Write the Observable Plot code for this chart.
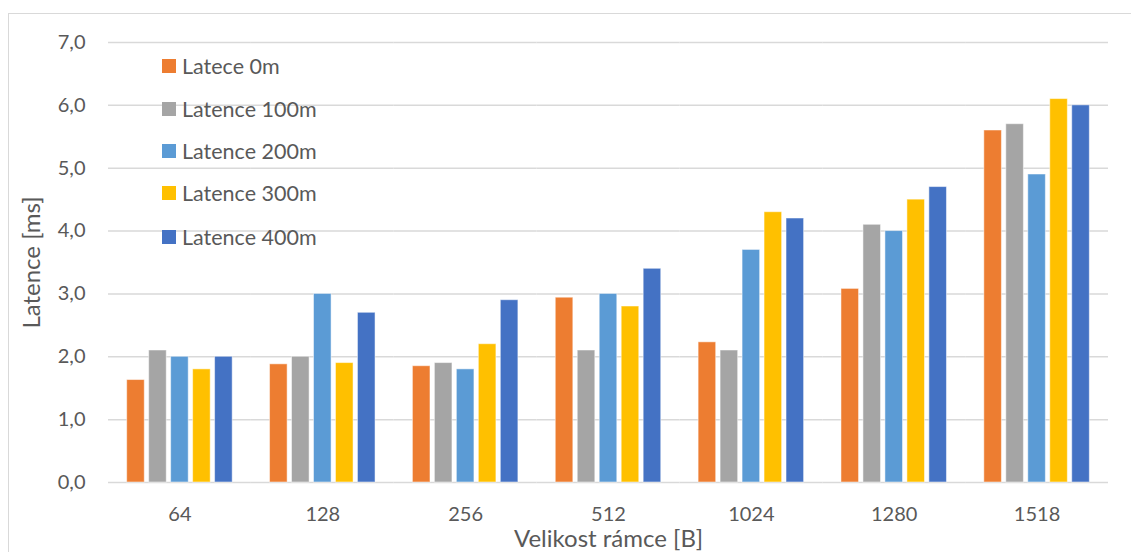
<!DOCTYPE html>
<html>
<head>
<meta charset="utf-8">
<script src="https://cdn.jsdelivr.net/npm/d3@7"></script>
<script src="https://cdn.jsdelivr.net/npm/@observablehq/plot@0.6"></script>
<style>
  html, body { margin: 0; padding: 0; background: #fff; overflow: hidden; }
  #wrap { position: relative; width: 1131px; height: 552px; background: #fff; font-family: Lato, "Open Sans", sans-serif; }
  #frame { position: absolute; left: 8px; top: 13px; width: 1140px; height: 600px; border: 1.5px solid #d9d9d9; box-sizing: border-box; }
  #chart { position: absolute; left: 0; top: 0; }
  #legend { position: absolute; left: 162px; top: 0; }
  .li { position: absolute; left: 0; height: 26px; display: flex; align-items: center; white-space: nowrap; font-size: 21.5px; color: #595959; }
  .sw { display: inline-block; width: 14px; height: 14px; margin-right: 6px; }
  g[aria-label="y-axis label"] text, g[aria-label="fx-axis label"] text { font-size: 24px; }
</style>
</head>
<body>
<div id="wrap">
  <div id="frame"></div>
  <div id="chart"></div>
  <div id="legend"></div>
</div>
<script>
// Data
const sizes = ["64", "128", "256", "512", "1024", "1280", "1518"];
const series = ["Latece 0m", "Latence 100m", "Latence 200m", "Latence 300m", "Latence 400m"];
const lat0   = [1.63, 1.88, 1.85, 2.94, 2.23, 3.08, 5.6];
const lat100 = [2.1, 2.0, 1.9, 2.1, 2.1, 4.1, 5.7];
const lat200 = [2.0, 3.0, 1.8, 3.0, 3.7, 4.0, 4.9];
const lat300 = [1.8, 1.9, 2.2, 2.8, 4.3, 4.5, 6.1];
const lat400 = [2.0, 2.7, 2.9, 3.4, 4.2, 4.7, 6.0];
const colors = ["#ED7D31", "#A5A5A5", "#5B9BD5", "#FFC000", "#4472C4"];
const yTicks = [0, 1, 2, 3, 4, 5, 6, 7];

const seriesValues = [lat0, lat100, lat200, lat300, lat400];
const data = sizes.flatMap((s, i) => series.map((name, j) => ({ size: s, series: name, value: seriesValues[j][i] })));
const fmt = d => d.toFixed(1).replace(".", ",");

const plot = Plot.plot({
  width: 1131,
  height: 552,
  marginTop: 42,
  marginBottom: 70,
  marginLeft: 108,
  marginRight: 23,
  style: { fontFamily: "Lato, 'Open Sans', sans-serif", fontSize: "20px", color: "#595959", background: "transparent", overflow: "visible" },
  fx: { domain: sizes, padding: 0, round: false, axis: "bottom", label: "Velikost rámce [B]", labelAnchor: "center", labelArrow: false, labelOffset: 64, tickSize: 0, tickPadding: 24 },
  x: { domain: series, axis: null, round: false, paddingInner: 0.2, paddingOuter: 0.85 },
  y: { domain: [0, 7], ticks: yTicks, tickFormat: fmt, tickSize: 0, tickPadding: 23, label: "Latence [ms]", labelAnchor: "center", labelArrow: false, labelOffset: 86 },
  color: { domain: series, range: colors },
  marks: [
    Plot.ruleY(yTicks, { stroke: "#d9d9d9", strokeWidth: 1.5 }),
    Plot.barY(data, { fx: "size", x: "series", y: "value", fill: "series", stroke: "white", strokeOpacity: 0.5, strokeWidth: 1 })
  ]
});
document.getElementById("chart").appendChild(plot);

// Legend (inside plot area, top-left)
const legend = document.getElementById("legend");
const rowCenters = [66, 109, 151, 193, 237];
series.forEach((name, j) => {
  const row = document.createElement("div");
  row.className = "li";
  row.style.top = (rowCenters[j] - 13) + "px";
  const sw = document.createElement("span");
  sw.className = "sw";
  sw.style.background = colors[j];
  row.appendChild(sw);
  row.appendChild(document.createTextNode(name));
  legend.appendChild(row);
});
</script>
</body>
</html>
